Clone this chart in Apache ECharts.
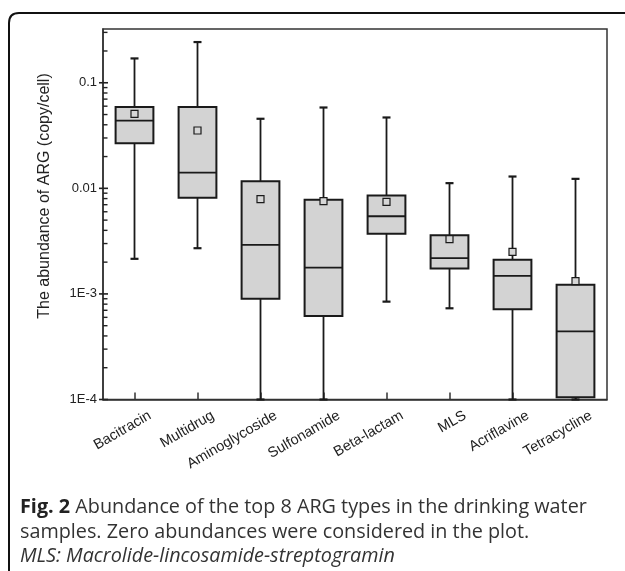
<!DOCTYPE html>
<html>
<head>
<meta charset="utf-8">
<script src="https://cdn.jsdelivr.net/npm/echarts@6/dist/echarts.min.js"></script>
<style>
html,body{margin:0;padding:0;background:#fff;}
#c{width:625px;height:571px;}
</style>
</head>
<body>
<div id="c"></div>
<script>
// ---- data ----
const categories = ['Bacitracin','Multidrug','Aminoglycoside','Sulfonamide','Beta-lactam','MLS','Acriflavine','Tetracycline'];
const whiskerMin = [0.00215, 0.00271, 0.0001, 0.0001, 0.000845, 0.000731, 0.0001, 0.0001];
const q1         = [0.0268, 0.00813, 0.000902, 0.000618, 0.00371, 0.00174, 0.000716, 0.000105];
const median     = [0.0437, 0.0141, 0.00291, 0.001775, 0.00544, 0.00218, 0.00148, 0.000442];
const q3         = [0.0589, 0.0590, 0.0117, 0.00778, 0.00855, 0.00360, 0.00211, 0.00122];
const whiskerMax = [0.170, 0.243, 0.0456, 0.0583, 0.0469, 0.0112, 0.01294, 0.0123];
const meanVal    = [0.0508, 0.0353, 0.00791, 0.00757, 0.00745, 0.00330, 0.00250, 0.00132];

const yTickValues = [0.0001, 0.001, 0.01, 0.1];
const yTickLabels = ['1E-4', '1E-3', '0.01', '0.1'];
const yMinorTicks = [0.0002,0.0003,0.0004,0.0005,0.0006,0.0007,0.0008,0.0009,
                     0.002,0.003,0.004,0.005,0.006,0.007,0.008,0.009,
                     0.02,0.03,0.04,0.05,0.06,0.07,0.08,0.09,
                     0.2,0.3];
const yMin = 0.0001, yMax = 0.323;

const yAxisTitle = 'The abundance of ARG (copy/cell)';
const captionBold = 'Fig. 2';
const captionLine1 = ' Abundance of the top 8 ARG types in the drinking water';
const captionLine2 = 'samples. Zero abundances were considered in the plot.';
const captionLine3 = 'MLS: Macrolide-lincosamide-streptogramin';

// ---- chart ----
const chart = echarts.init(document.getElementById('c'), null, {renderer: 'canvas'});
const boxData = categories.map((c, i) => [i, whiskerMin[i], q1[i], median[i], q3[i], whiskerMax[i], meanVal[i]]);
const ink = '#1a1a1a';
const axisFont = '"Liberation Sans", Arial, Helvetica, sans-serif';

function yLabel(v) {
  for (let k = 0; k < yTickValues.length; k++) {
    if (Math.abs(Math.log10(v) - Math.log10(yTickValues[k])) < 1e-6) return yTickLabels[k];
  }
  return '';
}

function tickRenderer(outLen, inLen, width) {
  return function (params, api) {
    const p = api.coord([0, api.value(1)]);
    const x0 = p[0] - api.size([1, 0])[0] / 2;
    return {type: 'line', shape: {x1: x0 - outLen, y1: p[1], x2: x0 + inLen, y2: p[1]}, style: {stroke: '#222', lineWidth: width}};
  };
}

const option = {
  animation: false,
  backgroundColor: '#fff',
  grid: {left: 103, top: 29, right: 18, bottom: 171.5, show: true, borderColor: '#333', borderWidth: 1.5, containLabel: false},
  xAxis: {
    type: 'category',
    data: categories,
    boundaryGap: true,
    axisLine: {show: true, lineStyle: {color: '#333', width: 1.5}},
    axisTick: {show: true, inside: true, length: 7, alignWithLabel: true, lineStyle: {color: '#333', width: 1.5}},
    axisLabel: {
      rotate: 30, margin: 24, color: '#222', fontFamily: axisFont, fontSize: 14.5,
      padding: [0, -18, 0, 0], interval: 0
    },
    splitLine: {show: false}
  },
  yAxis: {
    type: 'log',
    logBase: 10,
    min: yMin,
    max: yMax,
    axisLine: {show: true, lineStyle: {color: '#333', width: 1.5}},
    axisTick: {show: false},
    axisLabel: {color: '#222', fontFamily: axisFont, fontSize: 13, margin: 6, showMaxLabel: false, formatter: yLabel},
    splitLine: {show: false}
  },
  series: [
    {
      type: 'custom',
      name: 'majorTicks',
      data: yTickValues.map(v => [0, v]),
      encode: {x: 0, y: 1},
      silent: true,
      clip: false,
      z: 5,
      renderItem: tickRenderer(4, 5, 1.6)
    },
    {
      type: 'custom',
      name: 'minorTicks',
      data: yMinorTicks.map(v => [0, v]),
      encode: {x: 0, y: 1},
      silent: true,
      clip: false,
      z: 5,
      renderItem: tickRenderer(0, 4.5, 1.4)
    },
    {
      type: 'custom',
      name: 'ARG',
      data: boxData,
      encode: {x: 0, y: [1, 2, 3, 4, 5, 6]},
      z: 3,
      renderItem: function (params, api) {
        const i = api.value(0);
        const band = api.size([1, 0])[0];
        const bw = band * 0.6;
        const pMin = api.coord([i, api.value(1)]);
        const pQ1 = api.coord([i, api.value(2)]);
        const pMed = api.coord([i, api.value(3)]);
        const pQ3 = api.coord([i, api.value(4)]);
        const pMax = api.coord([i, api.value(5)]);
        const pMean = api.coord([i, api.value(6)]);
        const x = pMed[0];
        const capHalf = 4;
        const ls = {stroke: ink, lineWidth: 1.8};
        const sq = 7;
        return {
          type: 'group',
          children: [
            {type: 'line', shape: {x1: x, y1: pQ1[1], x2: x, y2: pMin[1]}, style: ls},
            {type: 'line', shape: {x1: x, y1: pQ3[1], x2: x, y2: pMax[1]}, style: ls},
            {type: 'line', shape: {x1: x - capHalf, y1: pMin[1], x2: x + capHalf, y2: pMin[1]}, style: {stroke: ink, lineWidth: 2.2}},
            {type: 'line', shape: {x1: x - capHalf, y1: pMax[1], x2: x + capHalf, y2: pMax[1]}, style: {stroke: ink, lineWidth: 2.2}},
            {type: 'rect', shape: {x: x - bw / 2, y: pQ3[1], width: bw, height: pQ1[1] - pQ3[1]}, style: {fill: '#d3d3d3', stroke: ink, lineWidth: 2}},
            {type: 'line', shape: {x1: x - bw / 2, y1: pMed[1], x2: x + bw / 2, y2: pMed[1]}, style: ls},
            {type: 'rect', shape: {x: x - sq / 2, y: pMean[1] - sq / 2, width: sq, height: sq}, style: {fill: '#d6d6d6', stroke: ink, lineWidth: 1.2}}
          ]
        };
      }
    }
  ],
  graphic: [
    {type: 'line', shape: {x1: 9, y1: 575, x2: 9, y2: 23}, style: {stroke: '#111', lineWidth: 2}},
    {type: 'bezierCurve', shape: {x1: 9, y1: 23, x2: 19, y2: 13, cpx1: 9, cpy1: 13}, style: {stroke: '#111', lineWidth: 2, fill: null}},
    {type: 'line', shape: {x1: 19, y1: 13, x2: 630, y2: 13}, style: {stroke: '#111', lineWidth: 2}},
    {
      type: 'text',
      x: 45, y: 196,
      rotation: Math.PI / 2,
      style: {text: yAxisTitle, fill: '#222', font: '16px ' + axisFont, textAlign: 'center', textVerticalAlign: 'middle'}
    },
    {
      type: 'text',
      x: 20, y: 507,
      style: {
        text: '{b|' + captionBold + '}{r|' + captionLine1 + '}',
        textVerticalAlign: 'middle',
        rich: {
          b: {fontFamily: 'Open Sans', fontWeight: 'bold', fontSize: 19.8, fill: '#222'},
          r: {fontFamily: 'Open Sans', fontSize: 19.8, fill: '#333'}
        }
      }
    },
    {
      type: 'text',
      x: 20, y: 532,
      style: {text: captionLine2, fill: '#333', font: '19.8px "Open Sans"', textVerticalAlign: 'middle'}
    },
    {
      type: 'text',
      x: 20, y: 556,
      style: {text: captionLine3, fill: '#333', font: 'italic 19.8px "Open Sans"', textVerticalAlign: 'middle'}
    }
  ]
};
chart.setOption(option);
</script>
</body>
</html>
